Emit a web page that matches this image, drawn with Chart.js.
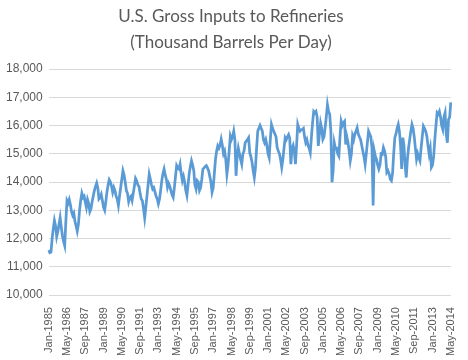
<!DOCTYPE html>
<html>
<head>
<meta charset="utf-8">
<script src="https://cdn.jsdelivr.net/npm/chart.js@4.4.1/dist/chart.umd.min.js"></script>
<style>
  html, body { margin: 0; padding: 0; background: #fff; }
  #wrap { width: 468px; height: 360px; }
</style>
</head>
<body>
<div id="wrap"><canvas id="myChart" width="468" height="360"></canvas></div>
<script>
// Monthly gross inputs, thousand barrels per day
const monthNames = ['Jan', 'Feb', 'Mar', 'Apr', 'May', 'Jun', 'Jul', 'Aug', 'Sep', 'Oct', 'Nov', 'Dec'];
const firstYear = 1985;

const inputs1985 = [11590, 11500, 11520, 12000, 12350, 12640, 12450, 12070, 12250, 12500, 12740, 12400];
const inputs1986 = [12100, 11900, 11750, 12600, 13340, 13250, 13380, 13200, 12950, 12820, 12900, 12600];
const inputs1987 = [12450, 12260, 12500, 13000, 13350, 13600, 13450, 13500, 13290, 13100, 13380, 13250];
const inputs1988 = [12950, 13050, 13300, 13500, 13700, 13850, 13970, 13800, 13400, 13450, 13560, 13350];
const inputs1989 = [13100, 13000, 13300, 13650, 13900, 14080, 14000, 13850, 13640, 13810, 13700, 13500];
const inputs1990 = [13400, 13170, 13500, 13800, 14100, 14400, 14250, 13990, 13700, 13600, 13310, 13450];
const inputs1991 = [13500, 13350, 13600, 13850, 14130, 14050, 13900, 13850, 13600, 13400, 13340, 13050];
const inputs1992 = [12730, 13100, 13500, 13900, 14280, 14100, 13900, 13750, 13800, 13650, 13500, 13400];
const inputs1993 = [13230, 13400, 13700, 14050, 14300, 14460, 14250, 14100, 13810, 13950, 13850, 13700];
const inputs1994 = [13550, 13460, 13800, 14200, 14580, 14500, 14460, 14630, 14300, 14050, 14200, 14000];
const inputs1995 = [13700, 13520, 13900, 14300, 14550, 14750, 14600, 14400, 13900, 13750, 14050, 14000];
const inputs1996 = [13700, 13800, 14100, 14460, 14500, 14550, 14580, 14500, 14400, 14200, 14000, 13640];
const inputs1997 = [13800, 14300, 14800, 15100, 15280, 15200, 15300, 15510, 15300, 15000, 15100, 14800];
const inputs1998 = [14280, 14600, 15100, 15630, 15500, 15600, 15800, 15500, 14220, 14900, 15200, 15000];
const inputs1999 = [14800, 14630, 15000, 15100, 15390, 15450, 15500, 15570, 15040, 14900, 14700, 14400];
const inputs2000 = [14160, 14500, 15200, 15800, 15900, 16000, 15900, 15800, 15500, 15390, 15500, 15300];
const inputs2001 = [15000, 14860, 15500, 16040, 15900, 15800, 15700, 15600, 15220, 15100, 15000, 14800];
const inputs2002 = [14520, 14800, 15200, 15570, 15500, 15600, 15680, 15550, 14630, 15200, 15300, 15100];
const inputs2003 = [14630, 15300, 16040, 15900, 15800, 15850, 15860, 15900, 15600, 15400, 15500, 15300];
const inputs2004 = [15200, 15040, 15600, 16100, 16500, 16450, 16500, 16300, 15280, 15700, 16090, 15900];
const inputs2005 = [15510, 15600, 15930, 16300, 16740, 16500, 16400, 15800, 13990, 14400, 15390, 15200];
const inputs2006 = [15200, 15000, 14920, 15600, 16150, 16000, 16100, 16150, 15330, 15600, 15400, 15100];
const inputs2007 = [14750, 15000, 15630, 15500, 15700, 15800, 15920, 15700, 15600, 15510, 15300, 15100];
const inputs2008 = [14900, 14630, 15000, 15400, 15800, 15700, 15600, 15200, 13170, 15100, 14900, 14800];
const inputs2009 = [14600, 14460, 14600, 15000, 14980, 15220, 15100, 14900, 14340, 14400, 14300, 14100];
const inputs2010 = [14050, 14300, 15000, 15570, 15700, 15900, 16040, 15800, 15300, 14460, 15570, 15300];
const inputs2011 = [14600, 14160, 14800, 15200, 15500, 15800, 16040, 15900, 15600, 15200, 14810, 15000];
const inputs2012 = [14860, 14750, 15200, 15600, 15980, 15900, 15800, 15630, 15300, 15000, 15200, 14520];
const inputs2013 = [14600, 14900, 15500, 16000, 16450, 16400, 16500, 16300, 16000, 15860, 16300, 16450];
const inputs2014 = [15700, 15390, 16210, 16300, 16820];

const yearly = [
	inputs1985, inputs1986, inputs1987, inputs1988, inputs1989, inputs1990,
	inputs1991, inputs1992, inputs1993, inputs1994, inputs1995, inputs1996,
	inputs1997, inputs1998, inputs1999, inputs2000, inputs2001, inputs2002,
	inputs2003, inputs2004, inputs2005, inputs2006, inputs2007, inputs2008,
	inputs2009, inputs2010, inputs2011, inputs2012, inputs2013, inputs2014
];

const labels = [];
const values = [];
yearly.forEach((arr, i) => {
	arr.forEach((v, m) => {
		labels.push(monthNames[m] + '-' + (firstYear + i));
		values.push(v);
	});
});

const labelEvery = 16;
const textColor = '#595959';

new Chart(document.getElementById('myChart'), {
	type: 'line',
	data: {
		labels: labels,
		datasets: [{
			label: 'Gross Inputs',
			data: values,
			borderColor: '#5b9bd5',
			backgroundColor: '#5b9bd5',
			borderWidth: 2.75,
			pointRadius: 0,
			tension: 0,
			fill: false
		}]
	},
	options: {
		responsive: false,
		animation: false,
		layout: {
			padding: { left: 0, right: 6, top: 4, bottom: 0 }
		},
		plugins: {
			legend: { display: false },
			tooltip: { enabled: false },
			title: {
				display: true,
				text: ['U.S. Gross Inputs to Refineries', '(Thousand Barrels Per Day)'],
				color: textColor,
				font: { family: 'Lato, "Open Sans", sans-serif', size: 17, weight: 'normal', lineHeight: 1.5 },
				padding: { top: 0, bottom: 14 }
			}
		},
		scales: {
			x: {
				grid: { display: false },
				border: { display: false },
				ticks: {
					autoSkip: false,
					maxRotation: 90,
					minRotation: 90,
					color: textColor,
					padding: 4,
					font: { family: '"Liberation Sans", Arial, sans-serif', size: 11 },
					callback: function (val, index) {
						return index % labelEvery === 0 ? labels[index] : null;
					}
				}
			},
			y: {
				min: 10000,
				max: 18000,
				grid: { color: '#d9d9d9', lineWidth: 1, drawTicks: false },
				border: { display: false },
				ticks: {
					stepSize: 1000,
					color: textColor,
					padding: 6,
					font: { family: '"Liberation Sans", Arial, sans-serif', size: 12 },
					callback: function (v) {
						return v.toLocaleString('en-US');
					}
				}
			}
		}
	}
});
</script>
</body>
</html>
